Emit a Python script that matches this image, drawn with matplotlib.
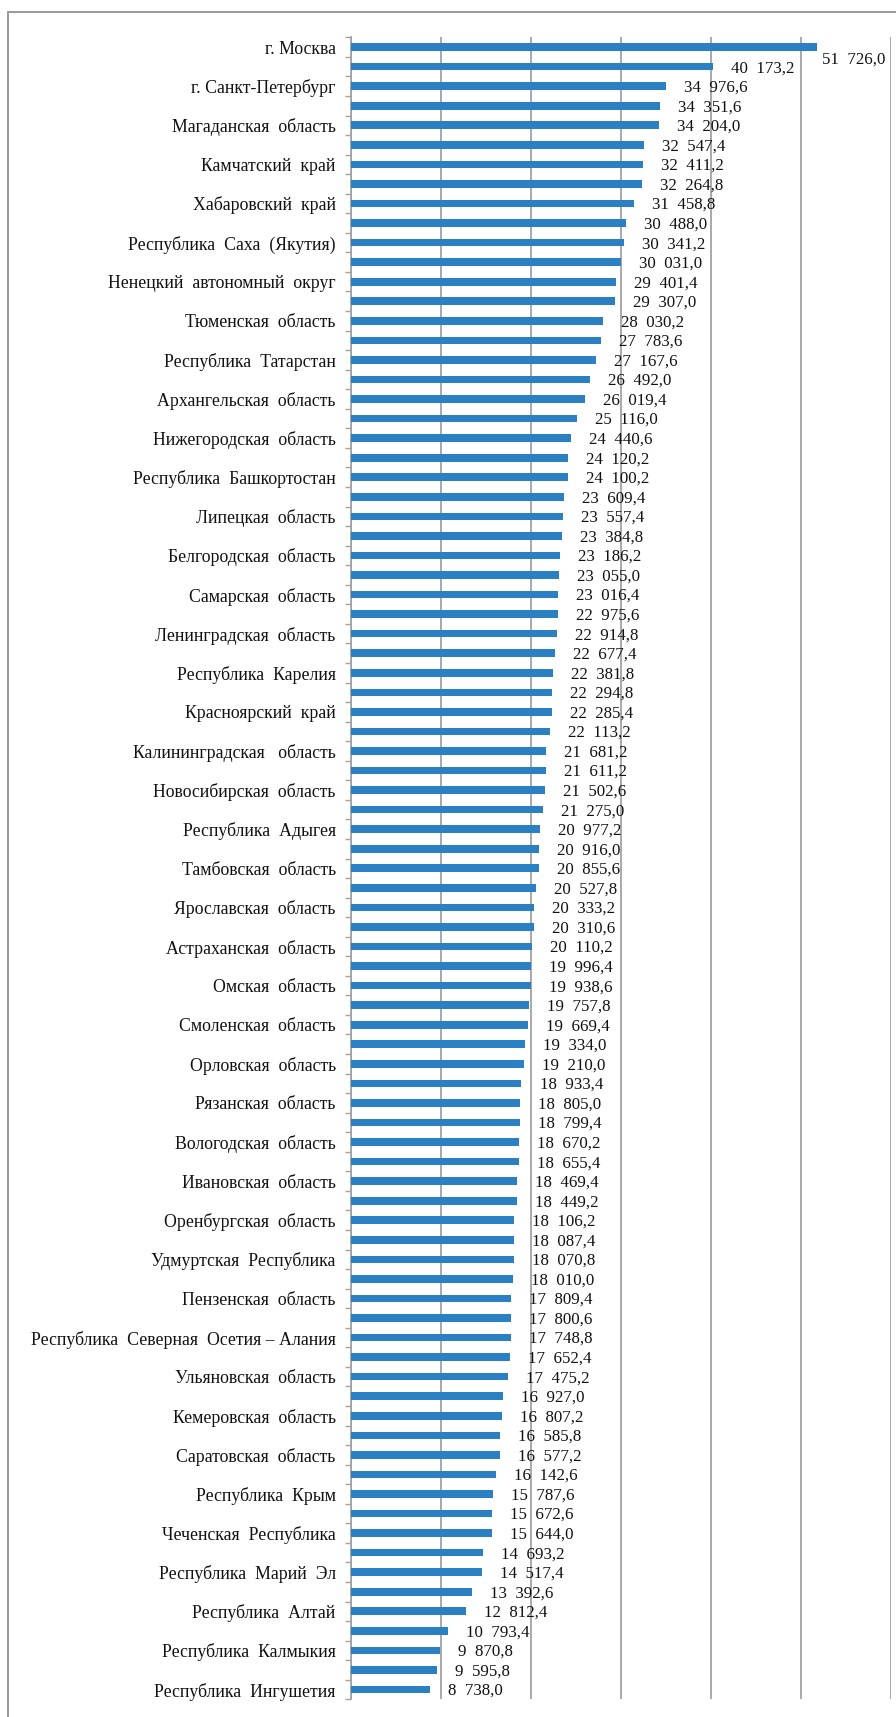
import matplotlib
matplotlib.use("Agg")
import matplotlib.pyplot as plt
import numpy as np
from matplotlib.patches import Rectangle

regions = [
    "г. Москва", "г. Санкт-Петербург", "Магаданская  область", "Камчатский  край",
    "Хабаровский  край", "Республика  Саха  (Якутия)", "Ненецкий  автономный  округ",
    "Тюменская  область", "Республика  Татарстан", "Архангельская  область",
    "Нижегородская  область", "Республика  Башкортостан", "Липецкая  область",
    "Белгородская  область", "Самарская  область", "Ленинградская  область",
    "Республика  Карелия", "Красноярский  край", "Калининградская   область",
    "Новосибирская  область", "Республика  Адыгея", "Тамбовская  область",
    "Ярославская  область", "Астраханская  область", "Омская  область",
    "Смоленская  область", "Орловская  область", "Рязанская  область",
    "Вологодская  область", "Ивановская  область", "Оренбургская  область",
    "Удмуртская  Республика", "Пензенская  область",
    "Республика  Северная  Осетия – Алания", "Ульяновская  область",
    "Кемеровская  область", "Саратовская  область", "Республика  Крым",
    "Чеченская  Республика", "Республика  Марий  Эл", "Республика  Алтай",
    "Республика  Калмыкия", "Республика  Ингушетия",
]

values = [
    51726.0, 40173.2, 34976.6, 34351.6, 34204.0, 32547.4, 32411.2, 32264.8,
    31458.8, 30488.0, 30341.2, 30031.0, 29401.4, 29307.0, 28030.2, 27783.6,
    27167.6, 26492.0, 26019.4, 25116.0, 24440.6, 24120.2, 24100.2, 23609.4,
    23557.4, 23384.8, 23186.2, 23055.0, 23016.4, 22975.6, 22914.8, 22677.4,
    22381.8, 22294.8, 22285.4, 22113.2, 21681.2, 21611.2, 21502.6, 21275.0,
    20977.2, 20916.0, 20855.6, 20527.8, 20333.2, 20310.6, 20110.2, 19996.4,
    19938.6, 19757.8, 19669.4, 19334.0, 19210.0, 18933.4, 18805.0, 18799.4,
    18670.2, 18655.4, 18469.4, 18449.2, 18106.2, 18087.4, 18070.8, 18010.0,
    17809.4, 17800.6, 17748.8, 17652.4, 17475.2, 16927.0, 16807.2, 16585.8,
    16577.2, 16142.6, 15787.6, 15672.6, 15644.0, 14693.2, 14517.4, 13392.6,
    12812.4, 10793.4, 9870.8, 9595.8, 8738.0,
]

x_ticks = [0, 10000, 20000, 30000, 40000, 50000, 60000]

BAR = "#2A80C3"
GRID = "#A3A3A3"
SERIF = ["Liberation Serif", "DejaVu Serif"]

def fmt(v):
    s = f"{v:,.1f}".replace(",", "  ").replace(".", ",")
    return s

fig = plt.figure(figsize=(8.96, 17.17), dpi=100)
ax = fig.add_axes([351 / 896, 1 - 1699.3 / 1717, (891.3 - 351) / 896, (1699.3 - 37.3) / 1717])

n = len(values)
y = np.arange(n)
ax.barh(y, values, height=0.39, color=BAR, zorder=3)

ax.set_xlim(0, 60000)
ax.set_ylim(n - 0.5, -0.5)
ax.set_xticks(x_ticks)
ax.tick_params(axis="x", length=0, labelbottom=False)
ax.grid(axis="x", color=GRID, linewidth=1.3, zorder=0)

label_pos = y[::2]
ax.set_yticks(label_pos)
ax.set_yticklabels(regions, fontfamily=SERIF, fontsize=12.8, color="#111111")
ax.tick_params(axis="y", which="major", length=0, pad=11)
ax.set_yticks(np.arange(-0.5, n, 1.0), minor=True)
ax.tick_params(axis="y", which="minor", length=4.5, width=1.0, color=GRID)

for s in ["top", "right", "bottom"]:
    ax.spines[s].set_visible(False)
ax.spines["left"].set_color(GRID)
ax.spines["left"].set_linewidth(1.3)

for i, v in enumerate(values):
    if i == 0:
        off = (3.5, -12)
    else:
        off = (13, -4)
    ax.annotate(fmt(v), xy=(v, i), xytext=off, textcoords="offset points",
                ha="left", va="baseline", fontfamily=SERIF, fontsize=12.2,
                color="#111111", zorder=4)

fig.add_artist(Rectangle((8.3 / 896, -0.1), 1.2, 1.1 - 11.7 / 1717,
                         transform=fig.transFigure, fill=False,
                         edgecolor="#9A9A9A", linewidth=1.4))

fig.savefig("out.png", dpi=100)
